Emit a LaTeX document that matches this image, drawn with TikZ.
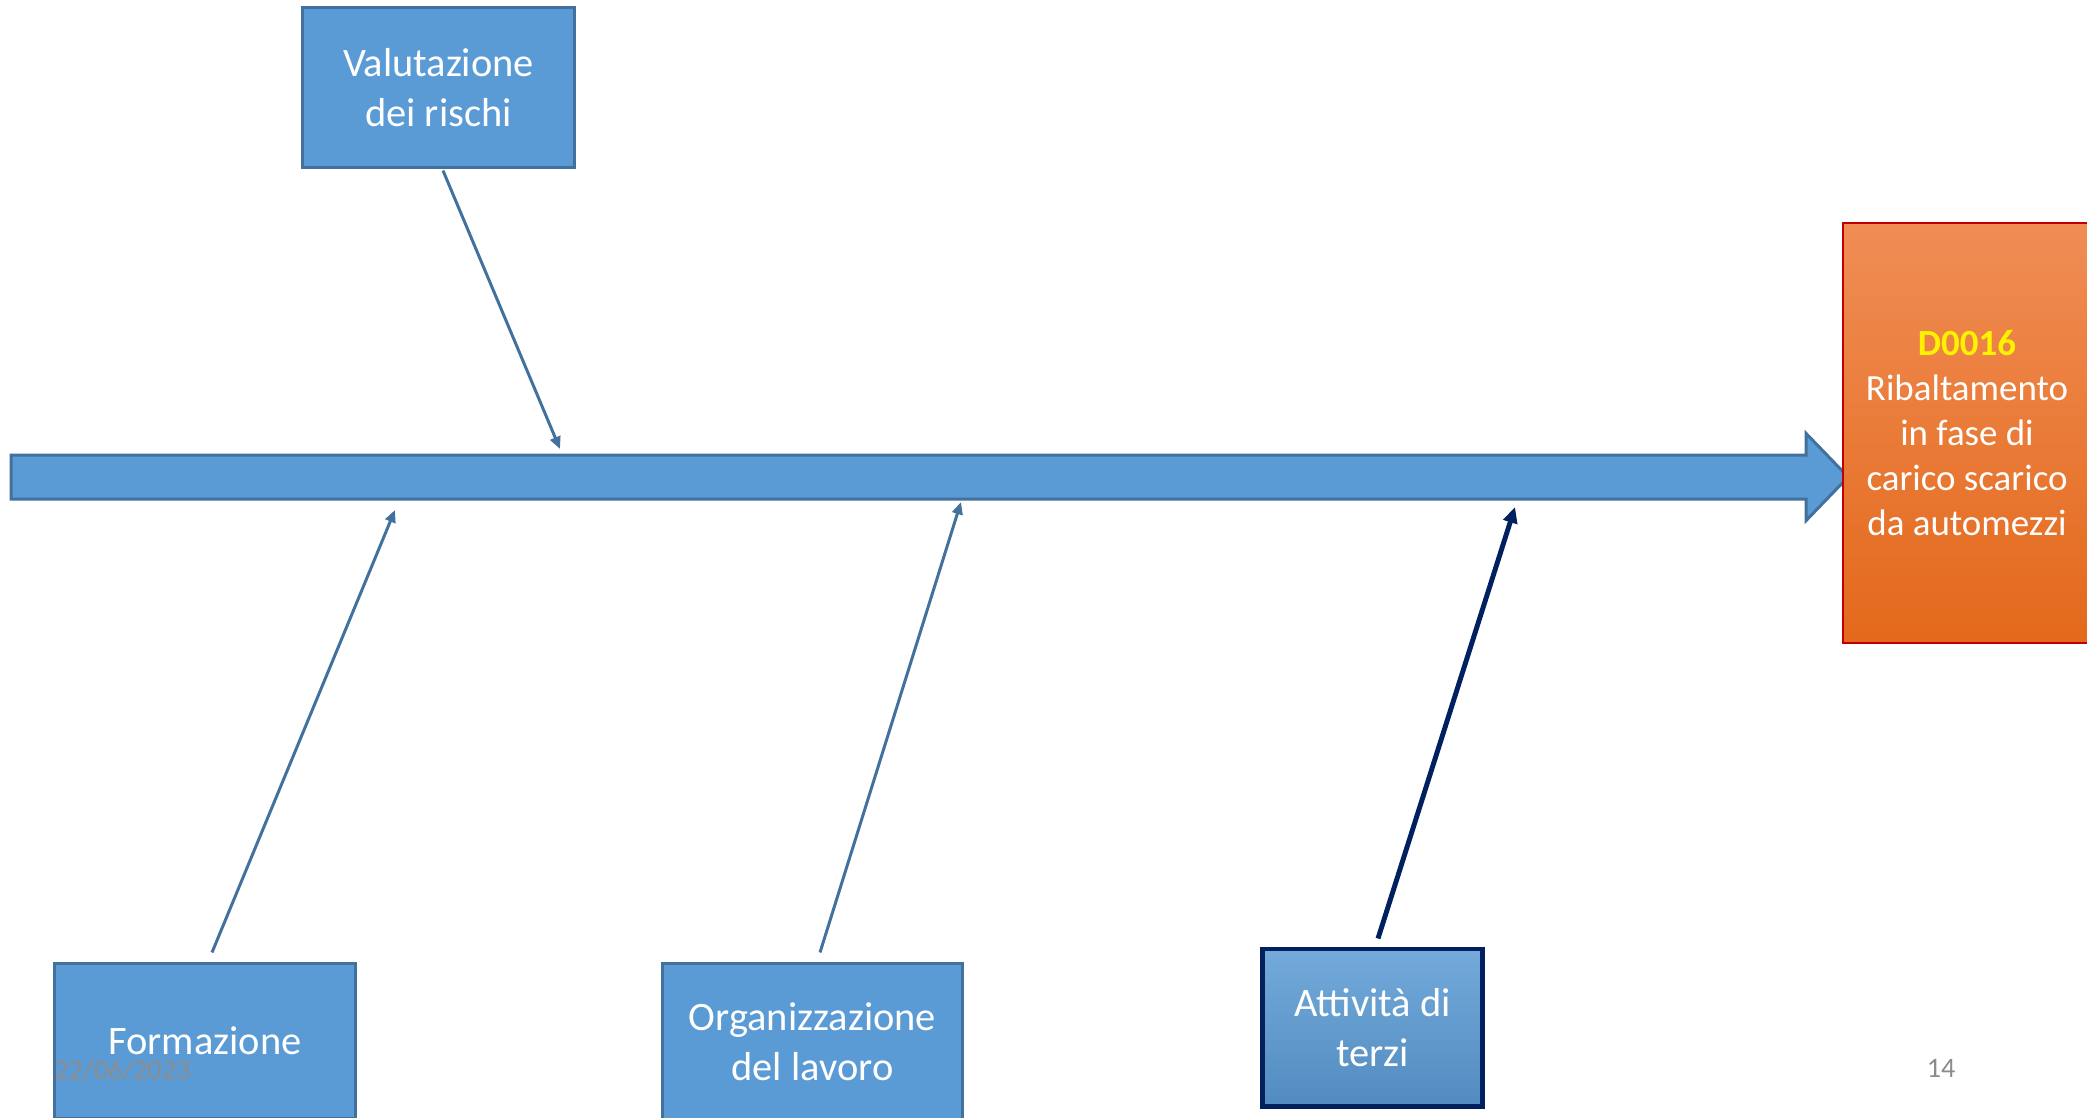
\documentclass[tikz,border=0pt]{standalone}
\usepackage{fontspec}
\setmainfont{Carlito}
\usetikzlibrary{shapes.arrows,arrows.meta}

\definecolor{boxblue}{HTML}{5B9BD5}
\definecolor{edgeblue}{HTML}{41719C}
\definecolor{navy}{HTML}{002060}
\definecolor{orangetop}{HTML}{F08D55}
\definecolor{orangebot}{HTML}{E3691B}
\definecolor{darkred}{HTML}{C00000}
\definecolor{footgray}{HTML}{8C8C8C}

\begin{document}
\begin{tikzpicture}[
  x=0.01cm, y=-0.01cm,
  cause/.style={draw=edgeblue, fill=boxblue, line width=0.85pt, inner sep=0pt,
    align=center, text=white, font=\fontsize{11.5}{14.3}\selectfont},
  cause_dark/.style={cause, draw=navy, line width=1.4pt, top color=boxblue!85!white, bottom color=boxblue!90!black},
  effect/.style={draw=darkred, line width=0.5pt, top color=orangetop, bottom color=orangebot,
    inner sep=0pt, align=center, text=white, font=\fontsize{10.5}{12.8}\selectfont},
  spine/.style={single arrow, draw=edgeblue, fill=boxblue, line width=0.85pt,
    minimum height=18.36cm, minimum width=0.85cm, inner xsep=0pt, inner ysep=0.205cm,
    single arrow head extend=0.215cm, single arrow tip angle=92},
  bone/.style={draw=edgeblue, line width=0.85pt, -{Triangle[length=3.5pt,width=3pt]}},
  bone_dark/.style={draw=navy, line width=1.4pt, -{Triangle[length=4.5pt,width=4pt]}},
  foot/.style={text=footgray, inner sep=0pt, font=\fontsize{8}{9.6}\selectfont}
  ]
	\clip (0,0) rectangle (2087,1117);

	\node[spine] (spine) at (919,477) {};
	\node[effect, minimum width=2.48cm, minimum height=4.2cm] (d0016) at (1967,433)
		{\textbf{\textcolor{yellow}{D0016}}\\Ribaltamento\\in fase di\\carico scarico\\da automezzi};

	\node[cause, minimum width=2.71cm, minimum height=1.59cm] (valutazione) at (438.5,87.5) {Valutazione\\dei rischi};
	\node[cause, minimum width=3.0cm, minimum height=1.54cm] (formazione) at (205,1041) {Formazione};
	\node[cause, minimum width=2.99cm, minimum height=1.56cm] (organizzazione) at (812.5,1042) {Organizzazione\\del lavoro};
	\node[cause_dark, minimum width=2.19cm, minimum height=1.57cm] (terzi) at (1372.5,1027.5) {Attività di\\terzi};

	\coordinate (v) at (560,449);
	\coordinate (f) at (395,510);
	\coordinate (o) at (961,502);
	\coordinate (t) at (1515,507);

	\draw[bone] ([xshift=0.045cm,yshift=-0.02cm]valutazione.south) -- (v);
	\draw[bone] ([xshift=0.07cm,yshift=0.1cm]formazione.north) -- (f);
	\draw[bone] ([xshift=0.075cm,yshift=0.1cm]organizzazione.north) -- (o);
	\draw[bone_dark] ([xshift=0.055cm,yshift=0.08cm]terzi.north) -- (t);

	\node[foot, anchor=west] (date) at (54,1070) {22/06/2023};
	\node[foot] (page) at (1941,1068) {14};
\end{tikzpicture}
\end{document}
